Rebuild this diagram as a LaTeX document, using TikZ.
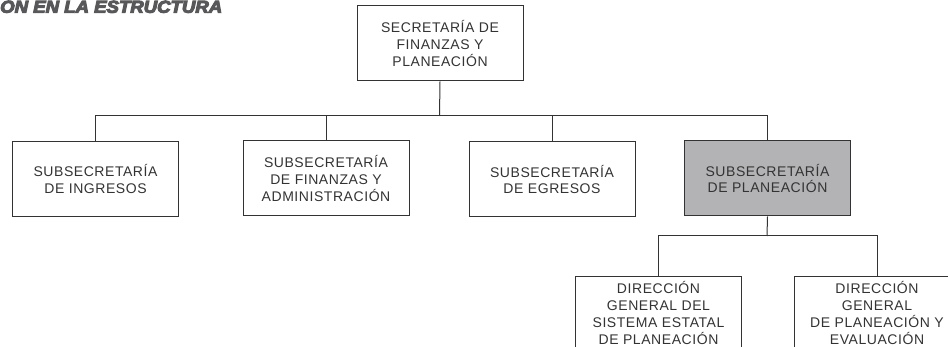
\documentclass[tikz,border=0pt]{standalone}
\usepackage{fontspec}
\setmainfont{Liberation Sans}[LetterSpace=4]
\newfontfamily\titlefont{Liberation Sans Bold Italic}[FakeBold=6]
\definecolor{linegray}{HTML}{333333}
\definecolor{textgray}{HTML}{333333}
\definecolor{boxfill}{HTML}{B3B3B5}
\definecolor{titlegray}{HTML}{58585A}
\tikzset{
  orgbox/.style={draw=linegray, line width=1pt, minimum width=166pt, minimum height=75pt,
    inner sep=0pt, align=center, text=textgray,
    font=\fontsize{14pt}{16.8pt}\selectfont},
  hilite/.style={orgbox, fill=boxfill},
  conn/.style={draw=linegray, line width=1pt}
}
\begin{document}
\begin{tikzpicture}[x=1pt,y=-1pt]
\useasboundingbox (0,0) rectangle (948,347);
\clip (0,0) rectangle (948,347);
\node[anchor=north west, inner sep=0pt, text=titlegray] (title) at (0,0.5)
  {\resizebox{222pt}{12pt}{\titlefont\bfseries ON EN LA ESTRUCTURA}};
\node[orgbox] (top) at (440,43.5) {SECRETARÍA DE\\FINANZAS Y\\PLANEACIÓN};
\node[orgbox] (b1) at (95.5,179) {SUBSECRETARÍA\\DE INGRESOS};
\node[orgbox] (b2) at (326,178.5) {SUBSECRETARÍA\\DE FINANZAS Y\\ADMINISTRACIÓN};
\node[orgbox] (b3) at (552,179.5) {SUBSECRETARÍA\\DE EGRESOS};
\node[hilite] (b4) at (767.5,178.5) {SUBSECRETARÍA\\DE PLANEACIÓN};
\node[orgbox, minimum height=72pt] (b5) at (658.5,313) {DIRECCIÓN\\GENERAL DEL\\SISTEMA ESTATAL\\DE PLANEACIÓN};
\node[orgbox, minimum height=72pt] (b6) at (877,313) {DIRECCIÓN\\GENERAL\\DE PLANEACIÓN Y\\EVALUACIÓN};
\coordinate (j1) at (439.5,116);
\coordinate (j2) at (767,236);
\draw[conn] (top.south) -- (j1);
\draw[conn] (j1) -| (b1.north);
\draw[conn] (j1) -| (b2.north);
\draw[conn] (j1) -| (b3.north);
\draw[conn] (j1) -| (b4.north);
\draw[conn] (b4.south) -- (j2);
\draw[conn] (j2) -| (b5.north);
\draw[conn] (j2) -| (b6.north);
\end{tikzpicture}
\end{document}
